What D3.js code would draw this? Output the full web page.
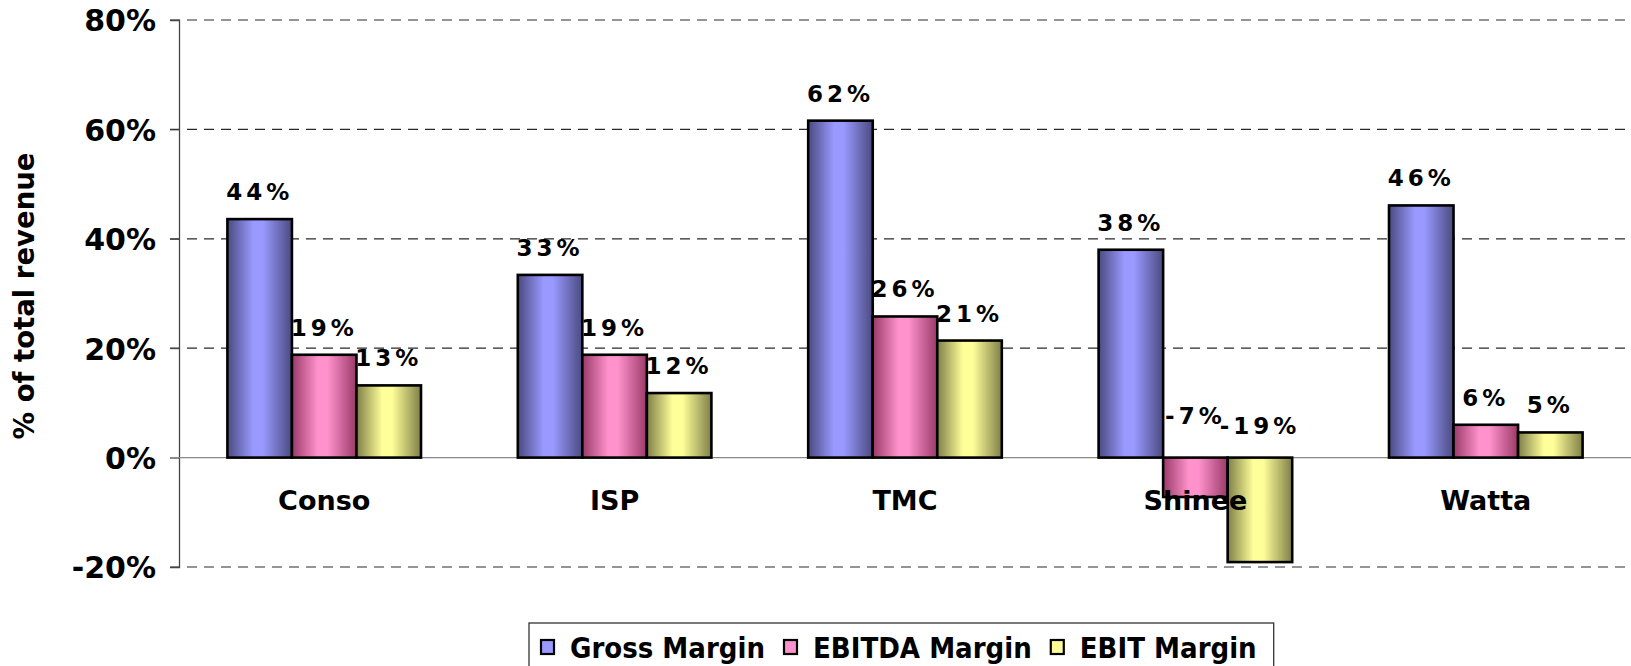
<!DOCTYPE html>
<html>
<head>
<meta charset="utf-8">
<script src="https://cdn.jsdelivr.net/npm/d3@7"></script>
<style>
  html, body { margin: 0; padding: 0; background: #fff; }
  svg { display: block; }
</style>
</head>
<body>
<svg id="chart" width="1631" height="666"></svg>
<script>
// ---- data ----
const categories = ["Conso", "ISP", "TMC", "Shinee", "Watta"];
const seriesNames = ["Gross Margin", "EBITDA Margin", "EBIT Margin"];
const grossMargin  = [43.6, 33.4, 61.6, 38.0, 46.1];
const ebitdaMargin = [18.8, 18.8, 25.8, -7.2, 6.0];
const ebitMargin   = [13.2, 11.8, 21.4, -19.1, 4.6];
const yTicks = [-20, 0, 20, 40, 60, 80];
const yTitle = "% of total revenue";

const seriesValues = [grossMargin, ebitdaMargin, ebitMargin];
const colors = [
  { light: "#9999ff", dark: "#4a4a80" },
  { light: "#ff92cc", dark: "#9a3a68" },
  { light: "#ffff99", dark: "#7f7f48" }
];

const svg = d3.select("#chart");
const plot = { left: 179, right: 1631, top: 20, bottom: 567 };

const x = d3.scaleBand().domain(categories).range([plot.left, plot.right]).paddingInner(0).paddingOuter(0);
const xs = d3.scaleBand().domain(seriesNames).range([0, x.bandwidth()]).paddingOuter(0.75).paddingInner(0);
const y = d3.scaleLinear().domain([-20, 80]).range([plot.bottom, plot.top]);

// gradients
const defs = svg.append("defs");
colors.forEach((c, i) => {
  const g = defs.append("linearGradient").attr("id", "grad" + i)
    .attr("x1", "0%").attr("x2", "100%").attr("y1", "0%").attr("y2", "0%");
  g.append("stop").attr("offset", "0%").attr("stop-color", c.dark);
  g.append("stop").attr("offset", "40%").attr("stop-color", c.light);
  g.append("stop").attr("offset", "55%").attr("stop-color", c.light);
  g.append("stop").attr("offset", "100%").attr("stop-color", c.dark);
});

// gridlines
svg.append("g").selectAll("line").data(yTicks.filter(t => t !== 0)).join("line")
  .attr("x1", plot.left - 9).attr("x2", plot.right)
  .attr("y1", d => y(d)).attr("y2", d => y(d))
  .attr("stroke", "#2a2a2a").attr("stroke-width", 1.2)
  .attr("stroke-dasharray", "10,7");

// y axis
const yAxis = d3.axisLeft(y).tickValues(yTicks).tickFormat(d => d + "%").tickSize(9).tickPadding(14);
const ga = svg.append("g").attr("transform", `translate(${plot.left},0)`).call(yAxis);
ga.select(".domain").attr("stroke", "#444").attr("stroke-width", 1.3);
ga.selectAll(".tick line").attr("stroke", "#444");
ga.selectAll(".tick text")
  .attr("font-family", "DejaVu Sans, Verdana, sans-serif")
  .attr("font-weight", "bold").attr("font-size", 30).attr("fill", "#000")
  .attr("dy", "0.36em");

// zero line
svg.append("line").attr("x1", plot.left - 9).attr("x2", plot.right)
  .attr("y1", y(0)).attr("y2", y(0)).attr("stroke", "#888").attr("stroke-width", 1.3);

// bars
const flat = [];
categories.forEach((cat, ci) => {
  seriesNames.forEach((s, si) => flat.push({ cat, s, si, v: seriesValues[si][ci] }));
});

svg.append("g").selectAll("rect").data(flat).join("rect")
  .attr("x", d => x(d.cat) + xs(d.s))
  .attr("width", xs.bandwidth())
  .attr("y", d => y(Math.max(0, d.v)))
  .attr("height", d => Math.abs(y(d.v) - y(0)))
  .attr("fill", d => `url(#grad${d.si})`)
  .attr("stroke", "#000").attr("stroke-width", 2.6);

// category labels
svg.append("g").selectAll("text").data(categories).join("text")
  .attr("x", d => x(d) + x.bandwidth() / 2)
  .attr("y", y(0) + 52)
  .attr("text-anchor", "middle")
  .attr("font-family", "DejaVu Sans, Verdana, sans-serif")
  .attr("font-weight", "bold").attr("font-size", 27)
  .text(d => d);

// data labels
svg.append("g").selectAll("text").data(flat).join("text")
  .attr("x", d => x(d.cat) + xs(d.s) + xs.bandwidth() / 2)
  .attr("y", d => d.v >= 0 ? y(d.v) - 19 : y(0) - 24 - (d.si === 1 ? 10 : 0))
  .attr("text-anchor", "middle")
  .attr("font-family", "DejaVu Sans, Verdana, sans-serif")
  .attr("font-weight", "bold").attr("font-size", 23)
  .attr("letter-spacing", "4px")
  .text(d => Math.round(d.v) + "%");

// y title
svg.append("text")
  .attr("transform", `translate(34,${296}) rotate(-90)`)
  .attr("text-anchor", "middle")
  .attr("font-family", "DejaVu Sans, Verdana, sans-serif")
  .attr("font-weight", "bold").attr("font-size", 27.5)
  .text(yTitle);

// legend
const lg = svg.append("g");
const legBox = lg.append("rect").attr("x", 529).attr("y", 623).attr("height", 60)
  .attr("fill", "#fff").attr("stroke", "#333").attr("stroke-width", 1.3);
let cx = 541;
seriesNames.forEach((s, i) => {
  lg.append("rect").attr("x", cx).attr("y", 640).attr("width", 13).attr("height", 14)
    .attr("fill", colors[i].light).attr("stroke", "#000").attr("stroke-width", 2.2);
  const t = lg.append("text").attr("x", cx + 29).attr("y", 658)
    .attr("font-family", "DejaVu Sans Condensed, DejaVu Sans, sans-serif")
    .attr("font-stretch", "condensed")
    .attr("font-weight", "bold").attr("font-size", 29)
    .text(s);
  const w = t.node().getComputedTextLength();
  cx = cx + 29 + w + 19;
});
legBox.attr("width", cx - 19 - 529 + 17);
</script>
</body>
</html>
